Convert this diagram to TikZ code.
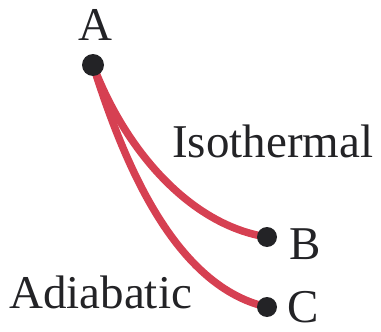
\documentclass[tikz,border=0pt]{standalone}
\usepackage{fontspec}
\setmainfont{Liberation Serif}
\usetikzlibrary{backgrounds}
\definecolor{hotred}{RGB}{214,64,82}
\definecolor{ink}{RGB}{35,35,38}

\begin{document}
\begin{tikzpicture}[
          x=1pt,y=-1pt,
          dot/.style={circle,fill=ink,inner sep=0pt,minimum size=#1},
          curve/.style={draw=hotred,line width=7.5pt},
          lbl/.style={font=\fontsize{47}{50}\selectfont,text=ink,inner sep=0pt,text depth=0pt}
        ]
        \useasboundingbox (0,0) rectangle (381,332);
        \node[dot=22pt] (A) at (93,65) {};
        \node[dot=20pt] (B) at (267,237) {};
        \node[dot=20pt] (C) at (267,307) {};
        \begin{scope}[on background layer]
          \draw[curve] (A.center) .. controls (125,150) and (190,225) .. (B.center);
          \draw[curve] (A.center) .. controls (120,150) and (170,285) .. (C.center);
        \end{scope}
        \node[lbl,anchor=base] (labA) at (95,40) {A};
        \node[lbl,anchor=base west] (iso) at (172,157) {Isothermal};
        \node[lbl,anchor=base west] (labB) at (289,259) {B};
        \node[lbl,anchor=base west] (adi) at (9,308) {Adiabatic};
        \node[lbl,anchor=base west] (labC) at (287,322) {C};
      \end{tikzpicture}
\end{document}
